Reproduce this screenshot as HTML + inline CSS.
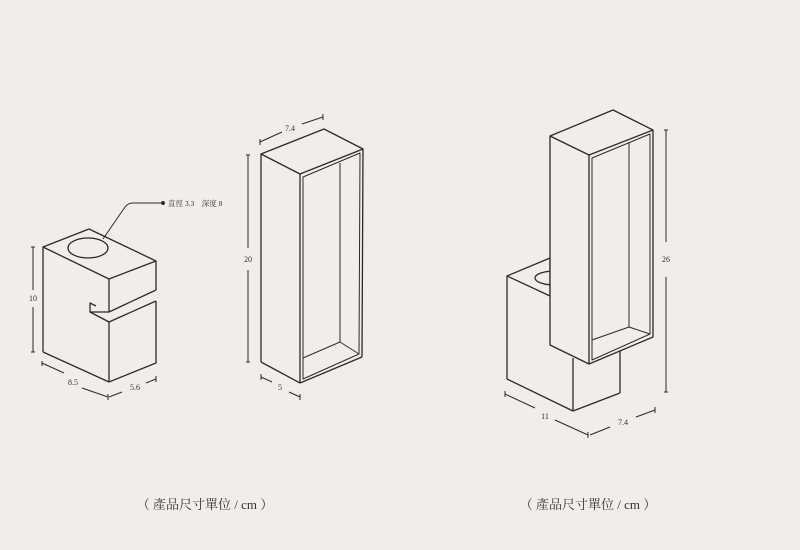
<!DOCTYPE html>
<html><head><meta charset="utf-8"><style>
html,body{margin:0;padding:0;background:#f2ede8;}
svg{display:block;}
text{font-family:"Liberation Serif","Noto Serif CJK SC",serif;fill:#333;}
</style></head><body>
<svg width="800" height="550" viewBox="0 0 800 550" xmlns="http://www.w3.org/2000/svg">
<rect width="800" height="550" fill="#f2ede8"/>
<g fill="none" stroke="#2a2a2a" stroke-width="1.3" stroke-linejoin="round">
<!-- Object 1 -->
<polygon points="43,247 89,229 156,261 109,279" fill="#f2ede8"/>
<ellipse cx="88" cy="248" rx="20" ry="10"/>
<line x1="109" y1="279" x2="109" y2="312"/>
<line x1="156" y1="261" x2="156" y2="290"/>
<line x1="109" y1="312" x2="156" y2="290"/>
<line x1="43" y1="247" x2="43" y2="352"/>
<polyline points="96,306 90,303 90,312 109,322"/>
<line x1="90" y1="312" x2="109" y2="312"/>
<line x1="109" y1="322" x2="156" y2="301"/>
<line x1="109" y1="322" x2="109" y2="382"/>
<line x1="156" y1="301" x2="156" y2="363"/>
<line x1="109" y1="382" x2="156" y2="363"/>
<line x1="43" y1="352" x2="109" y2="382"/>
<!-- leader -->
<path d="M103,239 L125,207 Q128,203 133,203 L162,203" stroke-width="1"/>
<circle cx="163" cy="203" r="1.3" fill="#2a2a2a"/>
<!-- dims obj1 -->
<g stroke-width="1">
<line x1="33" y1="247" x2="33" y2="290"/><line x1="33" y1="307" x2="33" y2="352"/>
<line x1="31" y1="247" x2="35" y2="247"/><line x1="31" y1="352" x2="35" y2="352"/>
<line x1="42" y1="363" x2="64" y2="373"/><line x1="82" y1="388" x2="108" y2="397"/>
<line x1="42" y1="361" x2="42" y2="366"/><line x1="108" y1="394" x2="108" y2="400"/>
<line x1="109" y1="397" x2="122" y2="392"/><line x1="146" y1="383" x2="156" y2="379"/>
<line x1="156" y1="376" x2="156" y2="382"/>
</g>
<!-- Object 2 -->
<polygon points="261,154 324,129 363,149 300,174"/>
<line x1="261" y1="154" x2="261" y2="362"/>
<line x1="300" y1="174" x2="300" y2="383"/>
<line x1="261" y1="362" x2="300" y2="383"/>
<line x1="363" y1="149" x2="362" y2="357"/>
<line x1="300" y1="383" x2="362" y2="357"/>
<polygon points="303,177 360,153 359,354 303,379" stroke-width="1"/>
<line x1="340" y1="163" x2="340" y2="342" stroke-width="1"/>
<line x1="303" y1="358" x2="340" y2="342" stroke-width="1"/>
<line x1="340" y1="342" x2="359" y2="354" stroke-width="1"/>
<g stroke-width="1">
<line x1="260" y1="142" x2="282" y2="132"/><line x1="302" y1="124" x2="323" y2="117"/>
<line x1="260" y1="139" x2="260" y2="145"/><line x1="323" y1="114" x2="323" y2="120"/>
<line x1="248" y1="155" x2="248" y2="248"/><line x1="248" y1="270" x2="248" y2="362"/>
<line x1="246" y1="155" x2="250" y2="155"/><line x1="246" y1="362" x2="250" y2="362"/>
<line x1="261" y1="377" x2="272" y2="382"/><line x1="289" y1="392" x2="300" y2="397"/>
<line x1="261" y1="374" x2="261" y2="380"/><line x1="300" y1="394" x2="300" y2="400"/>
</g>
<!-- Object 3 small block -->
<polygon points="507,276 550,258 550,296" fill="#f2ede8"/>
<clipPath id="c1"><rect x="500" y="250" width="50" height="50"/></clipPath>
<ellipse cx="555" cy="278" rx="20" ry="7" clip-path="url(#c1)"/>
<line x1="507" y1="276" x2="507" y2="379"/>
<line x1="507" y1="379" x2="573" y2="411"/>
<line x1="573" y1="358" x2="573" y2="411"/>
<line x1="573" y1="411" x2="620" y2="393"/>
<line x1="620" y1="350" x2="620" y2="393"/>
<!-- tall box -->
<polygon points="550,136 613,110 653,130 653,337 589,364 550,345" fill="#f2ede8"/>
<line x1="550" y1="136" x2="589" y2="155"/>
<line x1="589" y1="155" x2="653" y2="130"/>
<line x1="589" y1="155" x2="589" y2="364"/>
<polygon points="592,158 650,134 650,334 592,360" stroke-width="1"/>
<line x1="629" y1="142" x2="629" y2="327" stroke-width="1"/>
<line x1="592" y1="340" x2="629" y2="327" stroke-width="1"/>
<line x1="629" y1="327" x2="650" y2="334" stroke-width="1"/>
<g stroke-width="1">
<line x1="666" y1="130" x2="666" y2="242"/><line x1="666" y1="277" x2="666" y2="392"/>
<line x1="664" y1="130" x2="668" y2="130"/><line x1="664" y1="392" x2="668" y2="392"/>
<line x1="505" y1="394" x2="535" y2="408"/><line x1="555" y1="420" x2="588" y2="435"/>
<line x1="505" y1="391" x2="505" y2="397"/><line x1="588" y1="432" x2="588" y2="438"/>
<line x1="590" y1="435" x2="610" y2="427"/><line x1="636" y1="417" x2="655" y2="410"/>
<line x1="655" y1="407" x2="655" y2="413"/>
</g>
</g>
<g font-size="8" text-anchor="middle">
<text x="33" y="301">10</text>
<text x="73" y="385">8.5</text>
<text x="135" y="390">5.6</text>
<text x="290" y="131">7.4</text>
<text x="248" y="262">20</text>
<text x="280" y="390">5</text>
<text x="666" y="262">26</text>
<text x="545" y="419">11</text>
<text x="623" y="425">7.4</text>
<text x="168" y="206" text-anchor="start" font-size="7.5">直徑 3.3　深度 8</text>
</g>
<g font-size="13" text-anchor="middle">
<text x="205" y="509">（ 產品尺寸單位 / cm ）</text>
<text x="588" y="509">（ 產品尺寸單位 / cm ）</text>
</g>
</svg>
</body></html>
